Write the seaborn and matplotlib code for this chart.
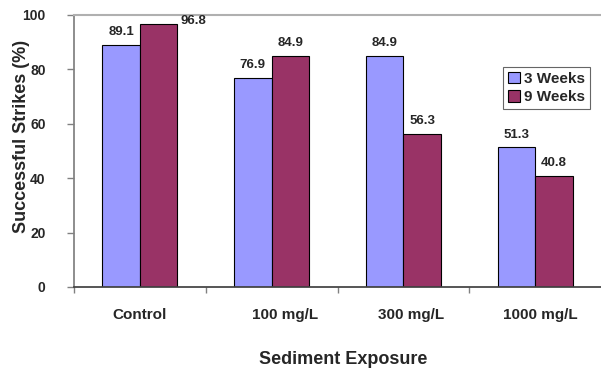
import matplotlib
matplotlib.use("Agg")
import matplotlib.pyplot as plt
import matplotlib.transforms as mtransforms
import seaborn as sns
import pandas as pd

categories = ["Control", "100 mg/L", "300 mg/L", "1000 mg/L"]
series_names = ["3 Weeks", "9 Weeks"]
weeks3 = [89.1, 76.9, 84.9, 51.3]
weeks9 = [96.8, 84.9, 56.3, 40.8]
y_ticks = [0, 20, 40, 60, 80, 100]

sns.set_theme(style="white")
plt.rcParams["font.family"] = ["Liberation Sans", "DejaVu Sans"]
plt.rcParams["font.weight"] = "bold"

df = pd.DataFrame({
    "Exposure": categories * 2,
    "Series": [series_names[0]] * 4 + [series_names[1]] * 4,
    "Value": weeks3 + weeks9,
})

fig = plt.figure(figsize=(6.01, 3.71), dpi=100)
W, H = 601, 371
ax = fig.add_axes([74 / W, (H - 287) / H, (601 - 74) / W, (287 - 15) / H])

sns.barplot(data=df, x="Exposure", y="Value", hue="Series", order=categories,
            hue_order=series_names, palette=["#9999FF", "#993366"],
            width=0.57, edgecolor="black", linewidth=0.8, ax=ax, errorbar=None,
            saturation=1)

ax.set_ylim(0, 100)
ax.set_xlim(-0.5, 3.5)
ax.set_yticks(y_ticks)
ax.set_yticklabels([str(t) for t in y_ticks], fontsize=10, fontweight="bold")
ax.tick_params(axis="y", direction="out", length=5, width=1, color="#808080", pad=15.5, left=True)

# x ticks: labels at category centres, small tick marks at category boundaries
ax.set_xticks(range(len(categories)))
ax.set_xticklabels(categories, fontsize=11, fontweight="bold")
ax.tick_params(axis="x", which="major", length=0, pad=15)
ax.set_xticks([-0.5, 0.5, 1.5, 2.5], minor=True)
ax.tick_params(axis="x", which="minor", direction="out", length=4, width=1,
               color="#808080", bottom=True)
label_shift = [0, 13, 8, 5]
for lbl, dx in zip(ax.get_xticklabels(), label_shift):
    lbl.set_transform(lbl.get_transform() + mtransforms.ScaledTranslation(dx / 100, 0, fig.dpi_scale_trans))

for s in ["left", "top", "bottom"]:
    ax.spines[s].set_visible(True)
ax.spines["left"].set_color("#808080")
ax.spines["top"].set_color("#B0B0B0")
ax.spines["top"].set_linewidth(1.5)
ax.spines["bottom"].set_color("#404040")
ax.spines["right"].set_visible(False)

# value labels
for container in ax.containers:
    for bar in container:
        h = bar.get_height()
        cx = bar.get_x() + bar.get_width() / 2
        if h > 92:
            ax.annotate(f"{h:.1f}", (bar.get_x() + bar.get_width(), h), xytext=(2, 2),
                        textcoords="offset points", ha="left", va="center",
                        fontsize=9.5, fontweight="bold")
        else:
            ax.annotate(f"{h:.1f}", (cx, h), xytext=(0, 5), textcoords="offset points",
                        ha="center", va="bottom", fontsize=9.5, fontweight="bold")

ax.set_ylabel("Successful Strikes (%)", fontsize=13, fontweight="bold")
ax.yaxis.set_label_coords((30 - 74) / 527, (287 - 136) / 272)
ax.set_xlabel("Sediment Exposure", fontsize=13, fontweight="bold")
ax.xaxis.set_label_coords((343 - 74) / 527, (287 - 351) / 272)

leg = ax.legend(loc="upper left", bbox_to_anchor=(503 / W, 1 - 67 / H),
                bbox_transform=fig.transFigure, frameon=True, fancybox=False,
                prop={"size": 11, "weight": "bold"}, handlelength=0.8, handleheight=0.8,
                handletextpad=0.3, borderpad=0.3, labelspacing=0.3, borderaxespad=0)
leg.get_frame().set_edgecolor("#404040")
leg.get_frame().set_linewidth(0.8)

fig.savefig("out.png", dpi=100)
